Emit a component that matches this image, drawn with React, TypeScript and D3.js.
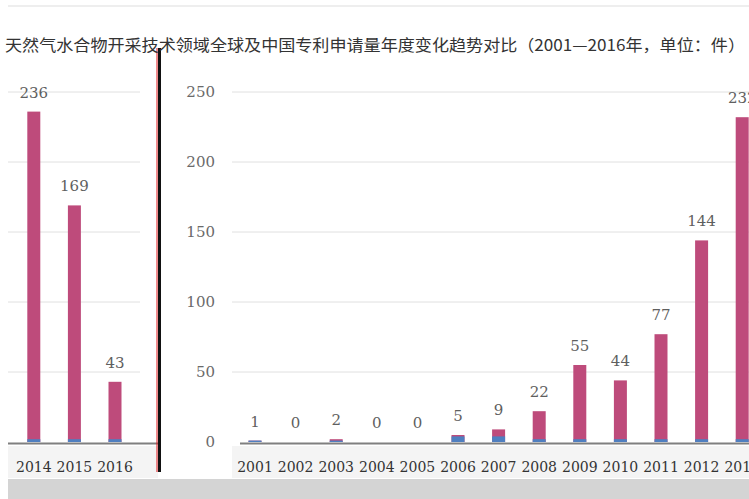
import React from "react";
import * as d3 from "d3";

const years = ["2001","2002","2003","2004","2005","2006","2007","2008","2009","2010","2011","2012","2013","2014","2015","2016"];
const totalApps = [1,0,2,0,0,5,9,22,55,44,77,144,232,236,169,43];
const blueApps = [1,0,1,0,0,4,4,2,2,2,2,2,2,2,2,2];
const yTicks = [0,50,100,150,200,250];
const title = "天然气水合物开采技术领域全球及中国专利申请量年度变化趋势对比（2001—2016年，单位：件）";

const W = 749;
const H = 499;
const WRAP = 749;
const SPLIT = 158;

const x = d3.scaleBand<string>().domain(years).range([234.7, 884.3]).paddingInner(0.68).paddingOuter(0.34);
const y = d3.scaleLinear().domain([0, 250]).range([442, 92]);

const numFont = "'DejaVu Serif', serif";

function Chart({ dx, show, axisLabels }: { dx: number; show: (i: number) => boolean; axisLabels: boolean }) {
  return (
    <g transform={`translate(${dx},0)`}>
      {yTicks.map((t) => (
        <g key={t}>
          {t > 0 && <line x1={232} x2={889} y1={y(t)} y2={y(t)} stroke="#e0e0e0" strokeWidth={1} />}
          {axisLabels && (
            <text x={215} y={y(t)} dy="0.35em" textAnchor="end" fontFamily={numFont} fontSize={15} fill="#6a6a6a">{t}</text>
          )}
        </g>
      ))}
      <rect x={232} y={446} width={680} height={32} fill="#f4f4f4" />
      <line x1={240} x2={907} y1={y(0) + 1.5} y2={y(0) + 1.5} stroke="#7f7f7f" strokeWidth={2} />
      {years.map((yr, i) =>
        show(i) ? (
          <g key={yr}>
            <rect x={x(yr)!} y={y(totalApps[i])} width={x.bandwidth()} height={y(0) - y(totalApps[i])} fill="#be4b7b" />
            <rect x={x(yr)!} y={y(blueApps[i])} width={x.bandwidth()} height={y(0) - y(blueApps[i])} fill="#4f7fc0" />
            <text x={x(yr)! + x.bandwidth() / 2} y={y(totalApps[i]) - 14} textAnchor="middle" fontFamily={numFont} fontSize={15} fill="#5f5f5f">{totalApps[i]}</text>
            <text x={x(yr)! + x.bandwidth() / 2} y={472} textAnchor="middle" fontFamily={numFont} fontSize={14} fill="#333">{yr}</text>
          </g>
        ) : null
      )}
    </g>
  );
}

export default function App() {
  return (
    <svg width={W} height={H} style={{ display: "block", position: "absolute", left: 0, top: 0 }}>
      <defs>
        <clipPath id="clipR"><rect x={SPLIT} y={0} width={W - SPLIT} height={H} /></clipPath>
        <clipPath id="clipL"><rect x={8} y={0} width={SPLIT - 8} height={H} /></clipPath>
      </defs>
      <rect x={0} y={0} width={W} height={H} fill="#fff" />
      <line x1={8} x2={W} y1={6} y2={6} stroke="#dddddd" />
      <g clipPath="url(#clipR)"><Chart dx={0} show={(i) => i <= 12} axisLabels={true} /></g>
      <g clipPath="url(#clipL)"><Chart dx={-WRAP} show={(i) => i >= 13} axisLabels={false} /></g>
      <rect x={8} y={479} width={W - 8} height={20} fill="#d4d4d4" />
      <line x1={157} x2={157} y1={48} y2={472} stroke="#e0161a" strokeWidth={1} />
      <rect x={158} y={48} width={3} height={424} fill="#111" />
      <text x={5} y={51} fontFamily="'Noto Sans CJK SC', sans-serif" fontSize={16} fill="#333" textLength={740} lengthAdjust="spacingAndGlyphs">{title}</text>
    </svg>
  );
}
